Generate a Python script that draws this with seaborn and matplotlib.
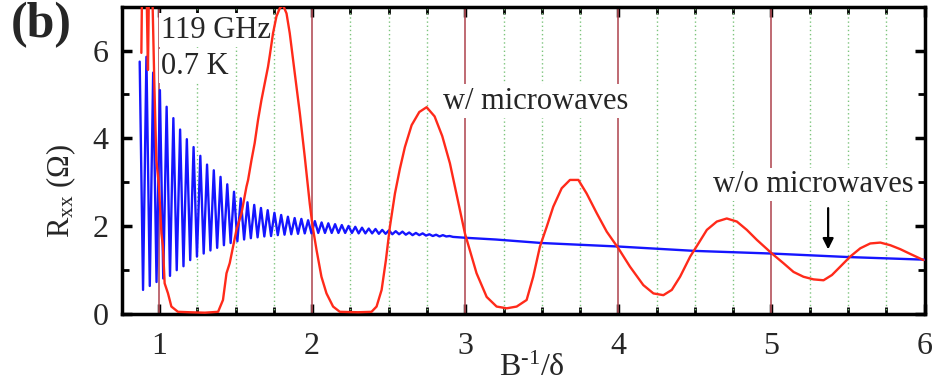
import numpy as np
import pandas as pd
import matplotlib
matplotlib.use("Agg")
import matplotlib.pyplot as plt
import seaborn as sns

# ---- data ----
blue_x = [0.874, 0.896, 0.918, 0.940, 0.962, 0.984, 1.006, 1.028, 1.050, 1.072,
          1.094, 1.116, 1.138, 1.160, 1.182, 1.204, 1.226, 1.248, 1.270, 1.292,
          1.314, 1.336, 1.358, 1.380, 1.402, 1.424, 1.446, 1.468, 1.490, 1.512,
          1.534, 1.556, 1.578, 1.600, 1.622, 1.644, 1.666, 1.688, 1.710, 1.732,
          1.754, 1.776, 1.798, 1.820, 1.842, 1.864, 1.886, 1.908, 1.930, 1.952,
          1.974, 1.996, 2.018, 2.040, 2.062, 2.084, 2.106, 2.128, 2.150, 2.172,
          2.194, 2.216, 2.238, 2.260, 2.282, 2.304, 2.326, 2.348, 2.370, 2.392,
          2.414, 2.436, 2.458, 2.480, 2.502, 2.524, 2.546, 2.568, 2.590, 2.612,
          2.634, 2.656, 2.678, 2.700, 2.722, 2.744, 2.766, 2.788, 2.810, 2.832,
          2.854, 2.876, 2.898, 2.920, 3.00, 3.20, 3.50, 3.75, 4.00, 4.25,
          4.50, 4.75, 5.00, 5.25, 5.50, 5.75, 6.00]
blue_y = [5.75, 0.54, 5.86, 0.63, 5.50, 0.72, 5.10, 0.80, 4.72, 0.86,
          4.46, 0.99, 4.20, 1.08, 3.98, 1.22, 3.80, 1.30, 3.60, 1.37,
          3.40, 1.44, 3.27, 1.50, 3.12, 1.56, 2.95, 1.61, 2.78, 1.65,
          2.63, 1.69, 2.54, 1.72, 2.48, 1.74, 2.41, 1.76, 2.36, 1.77,
          2.30, 1.79, 2.25, 1.80, 2.21, 1.81, 2.18, 1.82, 2.16, 1.83,
          2.13, 1.83, 2.11, 1.84, 2.08, 1.84, 2.06, 1.84, 2.04, 1.84,
          2.02, 1.84, 2.00, 1.84, 1.98, 1.83, 1.96, 1.83, 1.94, 1.83,
          1.93, 1.82, 1.91, 1.82, 1.90, 1.81, 1.88, 1.81, 1.87, 1.80,
          1.85, 1.79, 1.84, 1.79, 1.83, 1.78, 1.81, 1.77, 1.80, 1.76,
          1.79, 1.76, 1.77, 1.75, 1.73, 1.69, 1.61, 1.57, 1.53, 1.48,
          1.43, 1.40, 1.37, 1.33, 1.29, 1.26, 1.23]

red_x = [0.885, 0.890, 0.918, 0.928, 0.935, 0.955, 0.970, 0.983, 1.000, 1.016,
         1.026, 1.037, 1.059, 1.081, 1.124, 1.200, 1.300, 1.386, 1.418, 1.441,
         1.462, 1.484, 1.506, 1.539, 1.571, 1.582, 1.604, 1.625, 1.647, 1.669,
         1.691, 1.712, 1.724, 1.745, 1.767, 1.789, 1.810, 1.833, 1.854, 1.887,
         1.920, 1.952, 1.985, 2.003, 2.029, 2.061, 2.094, 2.137, 2.181, 2.300,
         2.388, 2.421, 2.454, 2.482, 2.508, 2.541, 2.573, 2.606, 2.650, 2.700,
         2.748, 2.800, 2.850, 2.900, 2.998, 3.074, 3.140, 3.205, 3.271, 3.336,
         3.401, 3.444, 3.488, 3.532, 3.575, 3.630, 3.684, 3.739, 3.793, 3.859,
         3.924, 4.000, 4.076, 4.163, 4.229, 4.294, 4.349, 4.403, 4.469, 4.523,
         4.578, 4.643, 4.708, 4.774, 4.839, 4.905, 5.003, 5.078, 5.144, 5.209,
         5.275, 5.340, 5.395, 5.449, 5.514, 5.580, 5.645, 5.711, 5.776, 5.841,
         5.907, 5.993]
red_y = [5.95, 7.60, 7.60, 5.56, 7.60, 7.60, 5.20, 3.50, 2.90, 1.83,
         1.53, 0.69, 0.46, 0.16, 0.04, 0.03, 0.02, 0.04, 0.31, 0.92,
         1.15, 1.53, 1.91, 2.29, 2.89, 3.05, 3.50, 3.89, 4.42, 4.87,
         5.26, 5.63, 5.90, 6.40, 6.78, 6.97, 7.04, 6.85, 6.40, 5.48,
         4.57, 3.58, 2.50, 2.00, 1.45, 0.84, 0.46, 0.16, 0.04, 0.03,
         0.04, 0.16, 0.54, 1.22, 1.98, 2.74, 3.30, 3.80, 4.30, 4.60,
         4.71, 4.50, 4.05, 3.43, 1.83, 0.92, 0.38, 0.16, 0.12, 0.16,
         0.31, 0.84, 1.53, 1.98, 2.44, 2.86, 3.05, 3.05, 2.74, 2.29,
         1.87, 1.49, 1.07, 0.65, 0.46, 0.42, 0.54, 0.84, 1.30, 1.60,
         1.91, 2.10, 2.17, 2.10, 1.91, 1.68, 1.37, 1.15, 0.95, 0.84,
         0.78, 0.76, 0.88, 1.07, 1.30, 1.49, 1.60, 1.62, 1.56, 1.47,
         1.36, 1.22]

major_lines = [1, 2, 3, 4, 5]
dotted_lines = [1.25, 1.5, 1.75, 2.25, 2.5, 2.75, 3.25, 3.5, 3.75,
                4.25, 4.5, 4.75, 5.25, 5.5, 5.75]
x_ticks = [1, 2, 3, 4, 5, 6]
y_ticks = [0, 2, 4, 6]

# ---- style ----
sns.set_theme(style="ticks")
plt.rcParams["font.family"] = ["Liberation Serif", "DejaVu Serif"]
plt.rcParams["mathtext.fontset"] = "custom"
plt.rcParams["mathtext.rm"] = "Liberation Serif"
plt.rcParams["mathtext.it"] = "Liberation Serif:italic"
plt.rcParams["mathtext.bf"] = "Liberation Serif:bold"

fig = plt.figure(figsize=(9.33, 3.81), dpi=100)
ax = fig.add_axes([0.131, 0.177, 0.860, 0.805])

df_blue = pd.DataFrame({"x": blue_x, "y": blue_y})
df_red = pd.DataFrame({"x": red_x, "y": red_y})

for xv in major_lines:
    ax.axvline(xv, color="#b4505a", lw=1.2, zorder=1)
for xv in dotted_lines:
    ax.axvline(xv, color="#7cc47c", lw=1.0, ls=(0, (1, 2)), zorder=1)

sns.lineplot(data=df_blue, x="x", y="y", sort=False, estimator=None,
             color="#1515ff", lw=1.7, ax=ax, zorder=4)
sns.lineplot(data=df_red, x="x", y="y", sort=False, estimator=None,
             color="#ff2a1a", lw=1.7, ax=ax, zorder=5)

ax.set_xlim(0.76, 6.0)
ax.set_ylim(0, 7.0)
ax.set_xticks(x_ticks)
ax.set_yticks(y_ticks)
ax.set_xticks(np.arange(1.0, 6.0, 0.25), minor=True)
ax.set_yticks([1, 3, 5], minor=True)
ax.tick_params(axis="both", which="major", direction="in", length=7, width=2.5,
               top=True, right=True, labelsize=23, color="black")
ax.tick_params(axis="both", which="minor", direction="in", length=5, width=2,
               top=True, right=True, color="black")
ax.tick_params(axis="x", which="major", pad=13)
ax.tick_params(axis="y", which="major", pad=10)
for s in ax.spines.values():
    s.set_linewidth(2.5)
    s.set_color("black")

ax.set_xlabel(r"B$^{\text{-1}}$/δ", fontsize=23)
ax.set_ylabel(r"R$_{\mathregular{xx}}$ (Ω)", fontsize=22)
ax.xaxis.set_label_coords(0.51, -0.13)
ax.yaxis.set_label_coords(-0.055, 0.40)

box = dict(facecolor="white", edgecolor="none", pad=1.5)
ax.text(1.012, 6.47, "119 GHz", fontsize=22, ha="left", va="center", bbox=box, zorder=3)
ax.text(1.012, 5.65, "0.7 K", fontsize=22, ha="left", va="center", bbox=box, zorder=3)
ax.text(3.46, 4.85, "w/ microwaves", fontsize=22, ha="center", va="center", bbox=box, zorder=3)
ax.text(5.27, 2.95, "w/o microwaves", fontsize=22, ha="center", va="center", bbox=box, zorder=3)
ax.annotate("", xy=(5.37, 1.40), xytext=(5.37, 2.47),
            arrowprops=dict(arrowstyle="-|>", color="black", lw=1.6, mutation_scale=16),
            zorder=6)

fig.text(0.011, 0.995, "(b)", fontsize=36, fontweight="bold", ha="left", va="top")

fig.savefig("out.png", dpi=100)
